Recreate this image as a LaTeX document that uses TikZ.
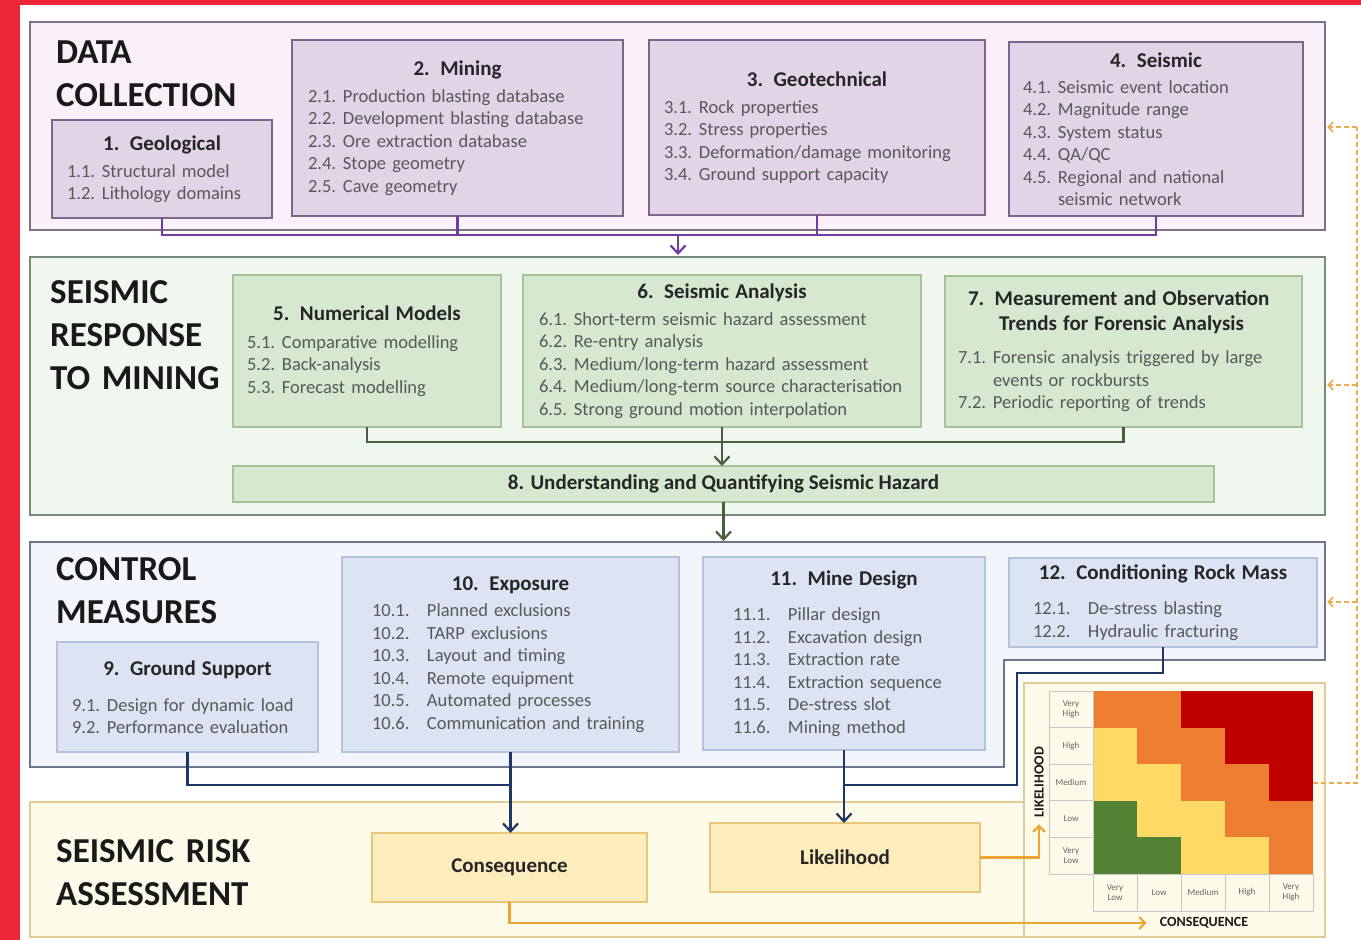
\documentclass[tikz,border=0pt]{standalone}
\usepackage{fontspec}
\setmainfont{Carlito}
\usetikzlibrary{arrows.meta}

\definecolor{redbg}{RGB}{237,37,56}
\definecolor{titlec}{RGB}{25,25,25}
\definecolor{headc}{RGB}{38,38,38}
\definecolor{itemc}{RGB}{88,88,88}
\definecolor{dcfill}{RGB}{249,240,249}
\definecolor{dcedge}{RGB}{125,115,135}
\definecolor{dcbox}{RGB}{226,212,230}
\definecolor{dcboxedge}{RGB}{125,100,140}
\definecolor{dcline}{RGB}{112,60,160}
\definecolor{srfill}{RGB}{240,247,238}
\definecolor{sredge}{RGB}{120,138,120}
\definecolor{srbox}{RGB}{214,232,208}
\definecolor{srboxedge}{RGB}{165,195,150}
\definecolor{srline}{RGB}{70,95,60}
\definecolor{cmfill}{RGB}{242,245,251}
\definecolor{cmedge}{RGB}{110,118,138}
\definecolor{cmbox}{RGB}{220,228,243}
\definecolor{cmboxedge}{RGB}{180,195,220}
\definecolor{cmline}{RGB}{30,55,100}
\definecolor{rafill}{RGB}{254,250,234}
\definecolor{raedge}{RGB}{222,205,150}
\definecolor{rabox}{RGB}{253,236,188}
\definecolor{raboxedge}{RGB}{232,200,120}
\definecolor{raline}{RGB}{236,165,50}
\definecolor{fbc}{RGB}{235,172,75}
\definecolor{mxg}{RGB}{84,130,53}
\definecolor{mxy}{RGB}{255,217,102}
\definecolor{mxo}{RGB}{237,125,49}
\definecolor{mxr}{RGB}{192,0,0}
\definecolor{mxgrid}{RGB}{200,200,200}
\definecolor{mxtext}{RGB}{100,100,100}

\newcommand\itemfont{\fontsize{18.5}{22.5}\selectfont}
\newcommand\headfont{\fontsize{21}{25}\selectfont\bfseries}
\newcommand\titlefont{\fontsize{35}{43}\selectfont\bfseries}
\newcommand\numw{35pt}
\newcommand\bhead[1]{\makebox[\linewidth]{\headfont\color{headc}#1}}
\newcommand\itm[3][0pt]{\\[#1]\makebox[\numw][l]{#2}\mbox{#3}}

\tikzset{
  sect/.style 2 args={draw=#1, fill=#2, line width=1.3pt, anchor=north west, inner sep=0pt, outer sep=0pt},
  itembox/.style 2 args={draw=#1, fill=#2, line width=1.2pt, anchor=north west, align=left, inner ysep=0pt, outer sep=0pt, font=\itemfont, text=itemc},
  sectitle/.style={anchor=base west, text width=260pt, align=left, inner sep=0pt, font=\titlefont, text=titlec},
  link/.style={line width=2.2pt},
  fbline/.style={draw=fbc, line width=1.6pt, dash pattern=on 5pt off 3pt},
  mxlabel/.style={font=\fontsize{9}{10}\selectfont, text=mxtext, align=center, inner sep=0pt},
  axislbl/.style={font=\fontsize{14}{16}\selectfont\bfseries, text=titlec, inner sep=0pt},
  >={Straight Barb[length=8pt,width=15pt]}
}

\begin{document}
\begin{tikzpicture}[x=1pt,y=-1pt]
\useasboundingbox (0,0) rectangle (1361,940);
  \fill[redbg] (0,0) rectangle (1361,940);
  \fill[white] (20,5) rectangle (1361,940);

  \node[sect={dcedge}{dcfill}, minimum width=1295pt, minimum height=208pt] (collect) at (30,22) {};
  \node[sect={sredge}{srfill}, minimum width=1295pt, minimum height=258pt] (response) at (30,257) {};
  \coordinate (c3nw) at (30,542);
  \coordinate (c3ne) at (1325,542);
  \draw[cmedge, fill=cmfill, line width=1.3pt] (c3nw) -- (c3ne) -- (1325,660) -- (1004,660) -- (1004,767) -- (30,767) -- cycle;
  \node[sect={raedge}{rafill}, minimum width=1295pt, minimum height=135pt] (riskass) at (30,802) {};
  \node[sect={raedge}{rafill}, minimum width=301pt, minimum height=254pt] (riskpanel) at (1024,683) {};

  \node[sectitle] (dctitle) at (56,63) {DATA\\COLLECTION};
  \node[sectitle] (srtitle) at (50,303) {SEISMIC\\RESPONSE\\TO MINING};
  \node[sectitle] (cmtitle) at (56,580) {CONTROL\\MEASURES};
  \node[sectitle] (ratitle) at (56,862) {SEISMIC RISK\\ASSESSMENT};

  \node[itembox={dcboxedge}{dcbox}, minimum width=220pt, minimum height=98pt, text width=190pt, inner xsep=15pt] (geo) at (52,120)
    {\bhead{1.\enspace Geological}\itm[4.5pt]{1.1.}{Structural model}\itm{1.2.}{Lithology domains}};
  \node[itembox={dcboxedge}{dcbox}, minimum width=331pt, minimum height=176pt, text width=299pt, inner xsep=16pt] (mining) at (292,40)
    {\bhead{2.\enspace Mining}\itm[4.5pt]{2.1.}{Production blasting database}\itm{2.2.}{Development blasting database}
     \itm{2.3.}{Ore extraction database}\itm{2.4.}{Stope geometry}\itm{2.5.}{Cave geometry}};
  \node[itembox={dcboxedge}{dcbox}, minimum width=336pt, minimum height=175pt, text width=306pt, inner xsep=15pt] (geotech) at (649,40)
    {\bhead{3.\enspace Geotechnical}\itm[4.5pt]{3.1.}{Rock properties}\itm{3.2.}{Stress properties}
     \itm{3.3.}{Deformation/damage monitoring}\itm{3.4.}{Ground support capacity}};
  \node[itembox={dcboxedge}{dcbox}, minimum width=294pt, minimum height=174pt, text width=266pt, inner xsep=14pt] (seis) at (1009,42)
    {\bhead{4.\enspace Seismic}\itm[3.5pt]{4.1.}{Seismic event location}\itm{4.2.}{Magnitude range}\itm{4.3.}{System status}
     \itm{4.4.}{QA/QC}\itm{4.5.}{Regional and national}\itm{}{seismic network}};

  \node[itembox={srboxedge}{srbox}, minimum width=268pt, minimum height=152pt, text width=240pt, inner xsep=14pt] (nummod) at (233,275)
    {\bhead{5.\enspace Numerical Models}\itm[5.5pt]{5.1.}{Comparative modelling}\itm{5.2.}{Back-analysis}\itm{5.3.}{Forecast modelling}};
  \node[itembox={srboxedge}{srbox}, minimum width=398pt, minimum height=152pt, text width=366pt, inner xsep=16pt] (analysis) at (523,275)
    {\bhead{6.\enspace Seismic Analysis}\itm[4.5pt]{6.1.}{Short-term seismic hazard assessment}\itm{6.2.}{Re-entry analysis}
     \itm{6.3.}{Medium/long-term hazard assessment}\itm{6.4.}{Medium/long-term source characterisation}
     \itm{6.5.}{Strong ground motion interpolation}};
  \node[itembox={srboxedge}{srbox}, minimum width=357pt, minimum height=151pt, text width=331pt, inner xsep=13pt] (forensic) at (945,276)
    {{\hspace*{10pt}\headfont\color{headc}7.\enspace Measurement and Observation}\\[2.5pt]
     {\hspace*{41pt}\headfont\color{headc}Trends for Forensic Analysis}
     \itm[10.5pt]{7.1.}{Forensic analysis triggered by large}\itm{}{events or rockbursts}\itm{7.2.}{Periodic reporting of trends}};
  \node[itembox={srboxedge}{srbox}, minimum width=981pt, minimum height=36pt, align=center, font=\headfont, text=headc] (hazard) at (233,466)
    {8. Understanding and Quantifying Seismic Hazard};

  \node[itembox={cmboxedge}{cmbox}, minimum width=261pt, minimum height=110pt, text width=231pt, inner xsep=15pt] (ground) at (57,642)
    {\bhead{9.\enspace Ground Support}\itm[13.5pt]{9.1.}{Design for dynamic load}\itm{9.2.}{Performance evaluation}};
  \node[itembox={cmboxedge}{cmbox}, minimum width=337pt, minimum height=195pt, text width=277pt, inner xsep=30pt] (expo) at (342,557)
    {\renewcommand\numw{55pt}\bhead{10.\enspace Exposure}\itm[3.5pt]{10.1.}{Planned exclusions}\itm{10.2.}{TARP exclusions}
     \itm{10.3.}{Layout and timing}\itm{10.4.}{Remote equipment}\itm{10.5.}{Automated processes}\itm{10.6.}{Communication and training}};
  \node[itembox={cmboxedge}{cmbox}, minimum width=282pt, minimum height=193pt, text width=222pt, inner xsep=30pt] (design) at (703,557)
    {\renewcommand\numw{55pt}\bhead{11.\enspace Mine Design}\itm[12.5pt]{11.1.}{Pillar design}\itm{11.2.}{Excavation design}
     \itm{11.3.}{Extraction rate}\itm{11.4.}{Extraction sequence}\itm{11.5.}{De-stress slot}\itm{11.6.}{Mining method}};
  \node[itembox={cmboxedge}{cmbox}, minimum width=308pt, minimum height=89pt, text width=260pt, inner xsep=24pt] (rockmass) at (1009,558)
    {\renewcommand\numw{55pt}\bhead{12.\enspace Conditioning Rock Mass}\itm[12.5pt]{12.1.}{De-stress blasting}\itm{12.2.}{Hydraulic fracturing}};

  \node[itembox={raboxedge}{rabox}, minimum width=275pt, minimum height=69pt, align=center, font=\headfont, text=headc] (conseq) at (372,833) {Consequence};
  \node[itembox={raboxedge}{rabox}, minimum width=270pt, minimum height=69pt, align=center, font=\headfont, text=headc] (likeli) at (710,823) {Likelihood};

\begin{scope}[shift={(1093,691)}]
  \foreach \cells [count=\j from 0] in {{mxo,mxo,mxr,mxr,mxr},{mxy,mxo,mxo,mxr,mxr},{mxy,mxy,mxo,mxo,mxr},{mxg,mxy,mxy,mxo,mxo},{mxg,mxg,mxy,mxy,mxo}}
    \foreach \cellc [count=\i from 0] in \cells
      \fill[\cellc] (44*\i,36.6*\j) rectangle ++(44,36.6);
  \draw[mxgrid, line width=0.8pt] (-44,0) rectangle (0,183);
  \foreach \j in {1,...,4} \draw[mxgrid, line width=0.8pt] (-44,36.6*\j) -- (0,36.6*\j);
  \draw[mxgrid, line width=0.8pt] (0,183) rectangle (220,220);
  \foreach \i in {1,...,4} \draw[mxgrid, line width=0.8pt] (44*\i,183) -- (44*\i,220);
  \foreach \lbl [count=\j from 0] in {{Very\\High},High,Medium,Low,{Very\\Low}}
    \node[mxlabel] (rowlbl\j) at (-22,36.6*\j+18.3) {\lbl};
  \foreach \lbl [count=\i from 0] in {{Very\\Low},Low,Medium,High,{Very\\High}}
    \node[mxlabel] (collbl\i) at (44*\i+22,201.5) {\lbl};
\end{scope}
  \node[axislbl, rotate=90] (likelbl) at (1039,782) {LIKELIHOOD};
  \node[axislbl] (conslbl) at (1204,923) {CONSEQUENCE};

  \coordinate (pbus) at (678,235);
  \draw[link, dcline] (geo.south) |- (pbus) -| (seis.south);
  \draw[link, dcline] (mining.south) -- (mining.south |- pbus);
  \draw[link, dcline] (geotech.south) -- (geotech.south |- pbus);
  \draw[link, dcline, ->, shorten >=2pt] (pbus) -- (pbus |- response.north);

  \coordinate (gbus) at (722,442);
  \draw[link, srline] (nummod.south) |- (gbus) -| (forensic.south);
  \draw[link, srline, ->] (analysis.south) -- (analysis.south |- hazard.north);
  \draw[link, srline, ->, shorten >=1pt] (hazard.south) -- (hazard.south |- c3nw);

  \coordinate (cbus) at (510,785);
  \coordinate (rbend) at (1017,673);
  \coordinate (lbus) at (844,785);
  \draw[link, cmline] (ground.south) |- (cbus);
  \draw[link, cmline, ->] (expo.south) -- (expo.south |- conseq.north);
  \draw[link, cmline] (rockmass.south) |- (rbend) |- (lbus);
  \draw[link, cmline, ->] (design.south) -- (design.south |- likeli.north);

  \draw[link, raline, -{Straight Barb[length=6pt,width=12pt]}, shorten >=7pt] (likeli.east) -| (likelbl.west);
  \draw[link, raline, -{Straight Barb[length=6pt,width=12pt]}, shorten >=13pt] (conseq.south) |- (conslbl.west);

  \coordinate (fbstart) at (1313,783);
  \coordinate (fbcorner) at (1357,783);
  \coordinate (fbtop) at (1357,127);
  \coordinate (fbmid) at (1357,385);
  \coordinate (fblow) at (1357,602);
  \draw[fbline] (fbstart) -- (fbcorner) -- (fbtop);
  \draw[fbline, -{Straight Barb[length=5pt,width=10pt]}, shorten >=2pt] (fbtop) -- (fbtop -| collect.east);
  \draw[fbline, -{Straight Barb[length=5pt,width=10pt]}, shorten >=2pt] (fbmid) -- (fbmid -| response.east);
  \draw[fbline, -{Straight Barb[length=5pt,width=10pt]}, shorten >=2pt] (fblow) -- (fblow -| c3ne);
\end{tikzpicture}
\end{document}
